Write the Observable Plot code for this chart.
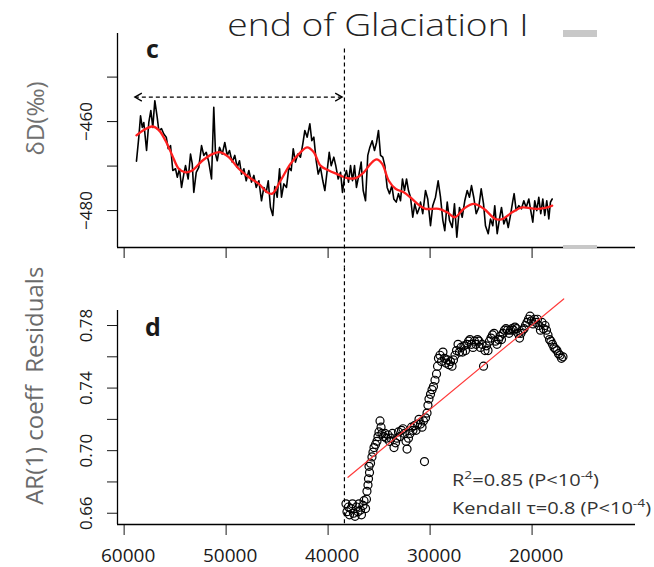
<!DOCTYPE html>
<html>
<head>
<meta charset="utf-8">
<script src="https://cdn.jsdelivr.net/npm/d3@7"></script>
<script src="https://cdn.jsdelivr.net/npm/@observablehq/plot@0.6"></script>
<style>
  body { margin: 0; background: #fff; }
  #fig { position: relative; width: 654px; height: 567px; overflow: hidden; background: #fff; font-family: "Open Sans", sans-serif; }
  #fig svg { position: absolute; left: 0; }
  .ov { position: absolute; white-space: nowrap; }
  #title { left: 378px; top: 9px; transform: translateX(-50%) scaleX(1.2); font-size: 31px; line-height: 31px; font-weight: 300; color: #222; }
  .panel { font-size: 25px; line-height: 25px; font-weight: 700; color: #1a1a1a; }
  #stats { left: 452px; top: 467px; font-size: 16px; line-height: 27px; color: #333; transform: scaleX(1.25); transform-origin: 0 0; }
  #stats sup { font-size: 11px; position: relative; top: -7px; vertical-align: baseline; }
  .grey { position: absolute; background: #c8c8c8; }
</style>
</head>
<body>
<div id="fig"></div>
<script>
// ---------------- data (ages in years BP) ----------------
const dDage = [58790,58560,58390,58220,58070,57800,57580,57380,57190,56990,56760,56600,56330,56110,55870,55680,55450,55230,54960,54790,
54570,54370,54150,53980,53720,53490,53320,53170,52930,52680,52410,52190,51950,51700,51430,51210,51040,50870,50650,50380,
50130,49890,49670,49400,49150,48910,48690,48490,48260,48030,47770,47510,47280,47050,46790,46530,46300,46070,45870,45650,
45420,45230,44990,44760,44570,44340,44080,43850,43620,43420,43200,42970,42710,42480,42280,42050,41790,41600,41400,41170,
40970,40750,40520,40320,40090,39890,39700,39440,39250,39010,38780,38590,38390,38200,38000,37800,37610,37410,37220,36990,
36760,36560,36330,36110,35910,35680,35450,35250,35060,34860,34640,34440,34210,33980,33750,33560,33320,33100,32900,32710,
32510,32310,32120,31920,31700,31500,31270,31040,30940,30720,30450,30230,29960,29740,29470,29210,28980,28750,28560,28320,
28100,27830,27610,27380,27120,26850,26600,26360,26140,25940,25720,25480,25230,24990,24760,24570,24300,24080,23850,23660,
23420,23200,23000,22770,22540,22340,22120,21890,21760,21560,21300,21040,20810,20580,20320,20130,19930,19740,19540,19340,
19150,18950,18760,18560,18360,18200,18030];
const dDval = [-468.9,-463.5,-458.7,-461.3,-460.2,-466.5,-460.2,-457.5,-461.3,-455.3,-459.0,-462.0,-461.6,-462.8,-463.5,-466.1,-465.4,-471.0,-470.6,-472.5,
-470.6,-474.8,-471.8,-469.9,-472.9,-467.3,-469.5,-475.9,-471.4,-470.3,-465.4,-467.6,-466.9,-469.1,-472.9,-456.8,-467.3,-468.8,-465.8,-467.3,
-464.7,-467.6,-466.5,-469.1,-467.6,-470.3,-468.8,-471.8,-470.6,-473.3,-471.0,-473.6,-472.1,-474.8,-473.3,-477.8,-474.8,-475.9,-473.3,-479.3,
-481.1,-474.6,-477.0,-470.6,-477.0,-474.0,-474.8,-470.3,-471.0,-466.1,-469.1,-467.3,-468.0,-465.0,-462.0,-463.5,-460.5,-464.3,-463.5,-468.8,
-471.8,-470.3,-473.3,-475.5,-471.0,-466.9,-469.9,-468.0,-469.9,-472.9,-471.4,-475.9,-472.5,-471.0,-473.6,-469.9,-473.3,-469.9,-474.8,-472.1,
-469.1,-475.5,-477.8,-467.6,-465.8,-464.3,-466.5,-464.7,-462.0,-467.6,-468.0,-469.9,-474.8,-476.2,-474.4,-477.4,-478.1,-476.2,-477.8,-472.9,
-475.5,-472.9,-475.5,-477.0,-481.5,-478.5,-480.7,-479.3,-478.1,-480.7,-475.5,-477.4,-483.4,-478.9,-477.0,-473.3,-477.0,-482.2,-484.5,-478.1,
-482.2,-483.8,-478.5,-486.0,-479.3,-481.5,-477.8,-475.5,-477.0,-474.4,-477.0,-480.7,-479.3,-475.1,-478.5,-483.4,-485.2,-481.9,-483.4,-478.9,
-485.2,-481.9,-479.3,-483.0,-481.5,-483.8,-481.1,-477.8,-476.2,-480.0,-478.9,-479.6,-477.8,-479.3,-477.4,-480.0,-482.6,-477.8,-480.0,-477.0,
-480.7,-477.4,-481.1,-477.8,-481.9,-478.1,-477.4];

const smoothAge = [58790,58070,57250,56600,55940,55280,54640,53980,53320,52340,51360,50550,49740,48760,47770,46790,45970,45480,44670,43690,
42710,42050,41400,40750,39930,39110,38130,37310,36500,35840,35250,34700,34050,33390,32580,31760,31010,30450,29150,28320,
27580,26700,25720,24730,23590,22930,21950,20970,19670,18690,18030];
const smoothVal = [-463.1,-461.9,-461.1,-461.9,-464.3,-467.6,-470.6,-471.4,-471.0,-468.8,-467.3,-466.9,-468.0,-470.6,-472.5,-474.0,-475.9,-476.2,-473.3,-469.5,
-466.9,-465.8,-466.9,-469.9,-471.0,-471.8,-472.7,-472.7,-471.4,-469.5,-468.5,-469.5,-473.3,-475.1,-475.9,-477.4,-478.9,-479.6,-479.6,-480.4,
-481.5,-479.6,-478.5,-479.6,-481.9,-481.9,-480.4,-479.3,-479.6,-479.4,-478.9];

const arAge = [38250,38150,38000,37900,37760,37610,37510,37360,37220,37070,36970,36820,36730,36580,36480,36330,36240,36190,36090,36040,
35940,35990,35840,35700,35600,35500,35350,35210,35110,35010,34910,34810,34720,34570,34420,34270,34130,33980,33830,33690,
33540,33390,33250,33100,32950,32800,32660,32510,32360,32260,32120,31970,31820,31680,31530,31380,31230,31090,30940,30790,
30650,30550,30450,30300,30210,30110,29960,29810,29670,29520,29370,29270,29180,29030,28880,28740,28590,28440,28290,28150,
28000,27850,27710,27560,27410,27260,27120,26970,26820,26680,26530,26380,26230,26090,25940,25790,25650,25500,25350,25200,
25060,24910,24760,24620,24470,24320,24180,24030,23880,23730,23590,23440,23290,23150,23000,22850,22710,22560,22410,22260,
22120,21970,21820,21680,21530,21380,21230,21090,20940,20790,20650,20500,20350,20200,20060,19910,19760,19620,19470,19320,
19180,19030,18880,18730,18590,18440,18290,18150,18000,17850,17700,17560,17410,17260,17120,16970];
const arVal = [0.666,0.661,0.664,0.659,0.663,0.666,0.660,0.658,0.664,0.661,0.666,0.662,0.659,0.665,0.668,0.663,0.669,0.674,0.678,0.682,
0.686,0.690,0.692,0.696,0.699,0.702,0.704,0.706,0.709,0.712,0.719,0.715,0.711,0.709,0.711,0.708,0.710,0.706,0.708,0.711,
0.702,0.705,0.708,0.712,0.709,0.713,0.714,0.711,0.706,0.701,0.708,0.711,0.715,0.713,0.716,0.713,0.717,0.720,0.717,0.715,
0.719,0.693,0.721,0.724,0.729,0.733,0.736,0.739,0.741,0.745,0.749,0.754,0.759,0.761,0.757,0.763,0.759,0.756,0.758,0.755,
0.757,0.754,0.758,0.761,0.764,0.768,0.763,0.766,0.763,0.767,0.764,0.768,0.770,0.771,0.768,0.766,0.770,0.768,0.771,0.770,
0.766,0.768,0.754,0.764,0.767,0.764,0.770,0.772,0.774,0.775,0.770,0.768,0.771,0.773,0.771,0.775,0.777,0.778,0.777,0.775,
0.777,0.778,0.777,0.779,0.778,0.775,0.772,0.775,0.777,0.778,0.780,0.782,0.784,0.786,0.783,0.781,0.784,0.782,0.784,0.780,
0.777,0.782,0.778,0.780,0.777,0.774,0.771,0.770,0.768,0.766,0.765,0.764,0.762,0.761,0.759,0.760];

const regAge = [38050, 16900];
const regVal = [0.683, 0.797];

const xTicks = [60000, 50000, 40000, 30000, 20000];
const dDTicks = [-450, -460, -470, -480];
const dDLabels = [-460, -480];
const arTicks = [0.66, 0.68, 0.70, 0.72, 0.74, 0.76, 0.78];
const arLabels = [0.66, 0.70, 0.74, 0.78];

const eventAge = 38400;                  // vertical dashed marker
const spanStart = 58950, spanEnd = 38620; // dashed double arrow
const spanLevel = -454.5;

// ---------------- layout helpers ----------------
const xDomain = [60650, 9860];
const dDDomain = [-488.3, -440.2];
const arDomain = [0.6528, 0.7896];
const font = "'Open Sans', sans-serif";
const minus = v => String(v).replace("-", "\u2212");

const chevronRight = { draw(ctx, size) { const s = Math.sqrt(size / Math.PI); ctx.moveTo(-s * 1.75, -s); ctx.lineTo(0, 0); ctx.lineTo(-s * 1.75, s); } };
const chevronLeft  = { draw(ctx, size) { const s = Math.sqrt(size / Math.PI); ctx.moveTo(s * 1.75, -s); ctx.lineTo(0, 0); ctx.lineTo(s * 1.75, s); } };

const dD = dDage.map((a, i) => ({age: a, v: dDval[i]}));
const sm = smoothAge.map((a, i) => ({age: a, v: smoothVal[i]}));
const ar = arAge.map((a, i) => ({age: a, v: arVal[i]}));
const reg = regAge.map((a, i) => ({age: a, v: regVal[i]}));

const topPlot = Plot.plot({
  width: 654, height: 267,
  marginLeft: 117, marginRight: 19, marginTop: 33, marginBottom: 20,
  style: {fontFamily: font, fontSize: "17px", color: "#111", background: "transparent", overflow: "visible"},
  x: {domain: xDomain, ticks: xTicks, tickSize: 11, tickFormat: () => "", label: null},
  y: {domain: dDDomain, ticks: dDTicks, tickSize: 10, tickFormat: () => "", label: null},
  marks: [
    Plot.ruleX([xDomain[0]], {stroke: "#000", strokeWidth: 1.3}),
    Plot.ruleY([dDDomain[0]], {stroke: "#000", strokeWidth: 1.3}),
    Plot.line(dD, {x: "age", y: "v", stroke: "#000", strokeWidth: 1.6}),
    Plot.line(sm, {x: "age", y: "v", stroke: "#ff1f1f", strokeWidth: 2.3, curve: "catmull-rom"}),
    Plot.ruleX([eventAge], {y1: -443.66, y2: -492.8, stroke: "#000", strokeWidth: 1.2, strokeDasharray: "4,3"}),
    Plot.link([0], {x1: spanStart, x2: spanEnd, y1: spanLevel, y2: spanLevel, stroke: "#000", strokeWidth: 1.2, strokeDasharray: "4,3"}),
    Plot.dot([spanEnd], {x: d => d, y: spanLevel, r: 4, symbol: chevronRight, fill: "none", stroke: "#000", strokeWidth: 1.3}),
    Plot.dot([spanStart], {x: d => d, y: spanLevel, r: 4, symbol: chevronLeft, fill: "none", stroke: "#000", strokeWidth: 1.3}),
    Plot.text(dDLabels, {y: d => d, text: d => minus(d), frameAnchor: "left", textAnchor: "middle", dx: -31, rotate: -90, fontSize: 17, fill: "#1a1a1a"}),
    Plot.text(["\u03b4D(\u2030)"], {y: () => -459.3, text: d => d, frameAnchor: "left", textAnchor: "middle", dx: -81, rotate: -90, fontSize: 24, fill: "#707070"})
  ]
});

const botPlot = Plot.plot({
  width: 654, height: 300,
  marginLeft: 117, marginRight: 19, marginTop: 43, marginBottom: 43,
  style: {fontFamily: font, fontSize: "19px", color: "#1a1a1a", background: "transparent", overflow: "visible"},
  x: {domain: xDomain, ticks: xTicks, tickSize: 11, tickFormat: () => "", label: null},
  y: {domain: arDomain, ticks: arTicks, tickSize: 10, tickFormat: () => "", label: null},
  marks: [
    Plot.ruleX([xDomain[0]], {stroke: "#000", strokeWidth: 1.3}),
    Plot.ruleY([arDomain[0]], {stroke: "#000", strokeWidth: 1.3}),
    Plot.ruleX([eventAge], {y1: 0.817, y2: arDomain[0], stroke: "#000", strokeWidth: 1.2, strokeDasharray: "4,3"}),
    Plot.dot(ar, {x: "age", y: "v", r: 4, fill: "none", stroke: "#000", strokeWidth: 1.2}),
    Plot.line(reg, {x: "age", y: "v", stroke: "#ff3b3b", strokeWidth: 1.2}),
    Plot.text(xTicks, {x: d => d, text: d => d3.format("d")(d), frameAnchor: "bottom", lineAnchor: "middle", dy: 31, dx: 4, fontSize: 19, fill: "#1a1a1a"}),
    Plot.text(arLabels, {y: d => d, text: d => d.toFixed(2), frameAnchor: "left", textAnchor: "middle", dx: -31, rotate: -90, fontSize: 17, fill: "#1a1a1a"}),
    Plot.text(["AR(1) coeff  Residuals"], {y: () => 0.7415, text: d => d, frameAnchor: "left", textAnchor: "middle", dx: -82, rotate: -90, fontSize: 24, fill: "#6a6a6a"})
  ]
});

const fig = document.getElementById("fig");
topPlot.style.top = "0px";
botPlot.style.top = "267px";
fig.appendChild(topPlot);
fig.appendChild(botPlot);

fig.insertAdjacentHTML("beforeend", `
  <div class="grey" style="left:563px;top:30px;width:34px;height:7px"></div>
  <div class="grey" style="left:563px;top:245px;width:34px;height:4px"></div>
  <div id="title" class="ov">end of Glaciation I</div>
  <div class="ov panel" style="left:146px;top:36px">c</div>
  <div class="ov panel" style="left:145px;top:314px">d</div>
  <div id="stats" class="ov">R<sup>2</sup>=0.85 (P&lt;10<sup>-4</sup>)<br>Kendall \u03c4=0.8 (P&lt;10<sup>-4</sup>)</div>
`);
</script>
</body>
</html>
